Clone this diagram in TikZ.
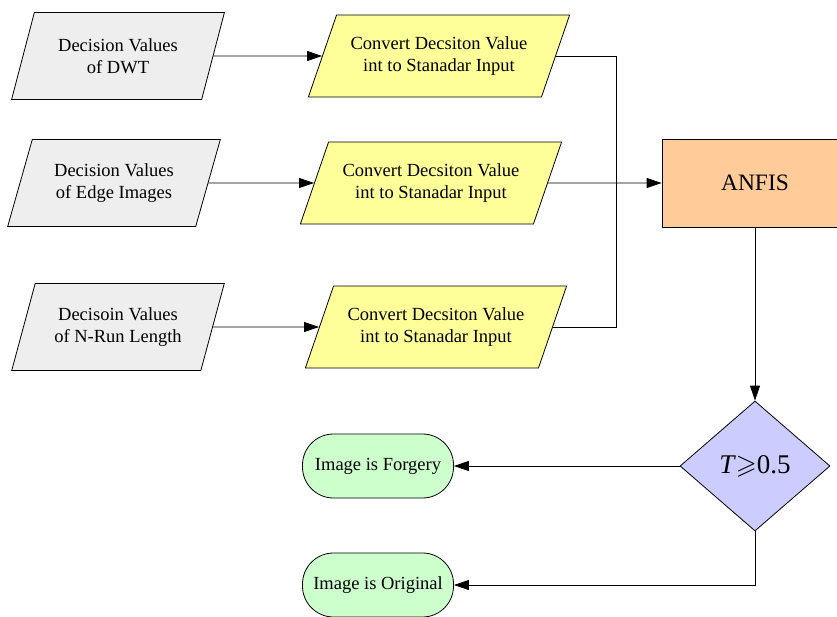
\documentclass[tikz,border=0pt]{standalone}
\usepackage{amssymb}
\usepackage{fontspec}
\setmainfont{Liberation Serif}
\usetikzlibrary{shapes.geometric,arrows.meta}
\definecolor{decgray}{HTML}{EEEEEE}
\definecolor{convyel}{HTML}{FFFF99}
\definecolor{anfisor}{HTML}{FFCC99}
\definecolor{testblu}{HTML}{CCCCFF}
\definecolor{termgrn}{HTML}{CCFFCC}
\begin{document}
\begin{tikzpicture}[x=1pt, y=-1pt, line width=0.8pt, align=center,
    font=\fontsize{18.5}{21.5}\selectfont,
    >={Triangle[length=15pt, width=10pt]}]
    \tikzset{%
      dec/.style={trapezium, trapezium stretches=true, draw, fill=decgray,
        minimum width=213pt, minimum height=87pt, inner sep=0pt,
        trapezium left angle=64.8, trapezium right angle=115.2},
      conv/.style={dec, fill=convyel, minimum width=262pt, minimum height=82pt,
        trapezium left angle=57.6, trapezium right angle=122.4},
      term/.style={draw, fill=termgrn, rounded corners=31pt,
        minimum width=151pt, minimum height=64pt}
      }
    \useasboundingbox (0,0) rectangle (837,616);

    \node [dec] (Ddwt) at (118, 56) {Decision Values\\of DWT};
    \node [dec] (Dedge) at (114, 183) {Decision Values\\of Edge Images};
    \node [dec] (Drun) at (118, 327) {Decisoin Values\\of N-Run Length};

    \node [conv] (Cdwt) at (439, 56) {Convert Decsiton Value\\int to Stanadar Input};
    \node [conv] (Cedge) at (431, 183) {Convert Decsiton Value\\int to Stanadar Input};
    \node [conv] (Crun) at (436, 327) {Convert Decsiton Value\\int to Stanadar Input};
    \draw [->] (Ddwt) -- (Cdwt);
    \draw [->] (Dedge) -- (Cedge);
    \draw [->] (Drun) -- (Crun);

    \node [draw, fill=anfisor, minimum width=186pt, minimum height=88pt,
      font=\fontsize{23.5}{26}\selectfont] (Xanfis) at (755, 183) {ANFIS};
    \coordinate (Xjoin) at (616, 183);
    \draw (Cdwt.east) -| (Xjoin) |- (Crun.east);
    \draw [->] (Cedge) -- (Xanfis);

    \node [diamond, draw, fill=testblu, minimum width=150pt, minimum height=130pt,
      inner sep=0pt, font=\fontsize{27}{30}\selectfont] (Xtest) at (755, 466)
      {\textit{T}$\geqslant$0.5};
    \draw [->] (Xanfis) -- (Xtest);

    \node [term] (Xforg) at (378, 466) {Image is Forgery};
    \node [term] (Xorig) at (378, 585) {Image is Original};
    \draw [->] (Xtest) -- (Xforg);
    \draw [->] (Xtest.south) |- (Xorig.east);
  \end{tikzpicture}
\end{document}
